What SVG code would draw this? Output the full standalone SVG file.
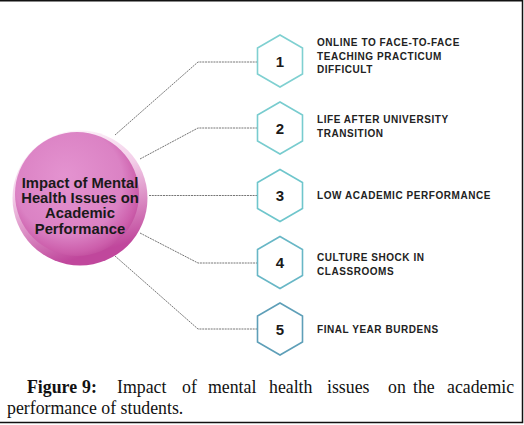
<svg xmlns="http://www.w3.org/2000/svg" width="524" height="425" viewBox="0 0 524 425">
<style>
.conn{fill:none;stroke:#666;stroke-width:0.9;stroke-dasharray:2 0.8}
.hex{fill:#fff;stroke-width:1.6}
.num{font-family:"Liberation Sans",Arial,sans-serif;font-weight:bold;font-size:15px;fill:#1a1a1a;text-anchor:middle}
.lbl{font-family:"Liberation Sans",Arial,sans-serif;font-weight:bold;font-size:10px;letter-spacing:0.55px;fill:#222}
.ctr{font-family:"Liberation Sans",Arial,sans-serif;font-weight:bold;font-size:14.8px;fill:#1a1a1a;text-anchor:middle}
.cap{font-family:"Liberation Serif","Times New Roman",serif;font-size:17.8px;fill:#111}
</style>
<defs>
<radialGradient id="ball" cx="0.45" cy="0.42" r="0.62" fx="0.4" fy="0.35">
<stop offset="0" stop-color="#e493d0"/>
<stop offset="0.7" stop-color="#db82c4"/>
<stop offset="0.9" stop-color="#cc5eab"/>
<stop offset="1" stop-color="#bd4899"/>
</radialGradient>
<linearGradient id="rim" x1="0" y1="0" x2="0.3" y2="1">
<stop offset="0" stop-color="#ffffff" stop-opacity="0.9"/>
<stop offset="0.45" stop-color="#f2c8e6" stop-opacity="0.9"/>
<stop offset="1" stop-color="#c0479c" stop-opacity="1"/>
</linearGradient>
<polygon id="hx" points="0,-26 22.5,-13 22.5,13 0,26 -22.5,13 -22.5,-13"/>
</defs>
<rect x="0" y="0" width="524" height="425" fill="#fff"/>
<path d="M0 0.75H522.5V422.5H0" fill="none" stroke="#111" stroke-width="1.5"/>
<g id="connectors">
<path class="conn" d="M115 135L198 62H258"/>
<path class="conn" d="M140 159L198 128H258"/>
<path class="conn" d="M149 195.5H258"/>
<path class="conn" d="M140 233L198 263H258"/>
<path class="conn" d="M115 256L198 329H258"/>
</g>
<g id="center">
<circle cx="80" cy="198" r="67.5" fill="url(#rim)"/>
<circle cx="77" cy="194" r="62" fill="url(#ball)"/>
<text class="ctr" x="80" y="187.5">Impact of Mental</text>
<text class="ctr" x="80" y="202.5">Health Issues on</text>
<text class="ctr" x="80" y="218">Academic</text>
<text class="ctr" x="80" y="233.5">Performance</text>
</g>
<g id="item1">
<use href="#hx" x="280" y="61" class="hex" stroke="#7fd0d1"/>
<text class="num" x="280" y="66.5">1</text>
<text class="lbl" x="317" y="46">ONLINE TO FACE-TO-FACE</text>
<text class="lbl" x="317" y="59.5">TEACHING PRACTICUM</text>
<text class="lbl" x="317" y="73">DIFFICULT</text>
</g>
<g id="item2">
<use href="#hx" x="280" y="128" class="hex" stroke="#78cccf"/>
<text class="num" x="280" y="133.5">2</text>
<text class="lbl" x="317" y="123">LIFE AFTER UNIVERSITY</text>
<text class="lbl" x="317" y="136.5">TRANSITION</text>
</g>
<g id="item3">
<use href="#hx" x="280" y="195.5" class="hex" stroke="#6fc6cc"/>
<text class="num" x="280" y="201">3</text>
<text class="lbl" x="317" y="199">LOW ACADEMIC PERFORMANCE</text>
</g>
<g id="item4">
<use href="#hx" x="280" y="262.5" class="hex" stroke="#68b7c6"/>
<text class="num" x="280" y="268">4</text>
<text class="lbl" x="317" y="261">CULTURE SHOCK IN</text>
<text class="lbl" x="317" y="274.5">CLASSROOMS</text>
</g>
<g id="item5">
<use href="#hx" x="280" y="329" class="hex" stroke="#5e9fb8"/>
<text class="num" x="280" y="334.5">5</text>
<text class="lbl" x="317" y="333">FINAL YEAR BURDENS</text>
</g>
<g id="caption">
<text class="cap" y="393"><tspan x="27" font-weight="bold">Figure</tspan><tspan x="82" font-weight="bold">9:</tspan><tspan x="117">Impact</tspan><tspan x="182">of</tspan><tspan x="208">mental</tspan><tspan x="269">health</tspan><tspan x="327">issues</tspan><tspan x="388">on</tspan><tspan x="413">the</tspan><tspan x="447">academic</tspan></text>
<text class="cap" x="7" y="414">performance of students.</text>
</g>
</svg>
